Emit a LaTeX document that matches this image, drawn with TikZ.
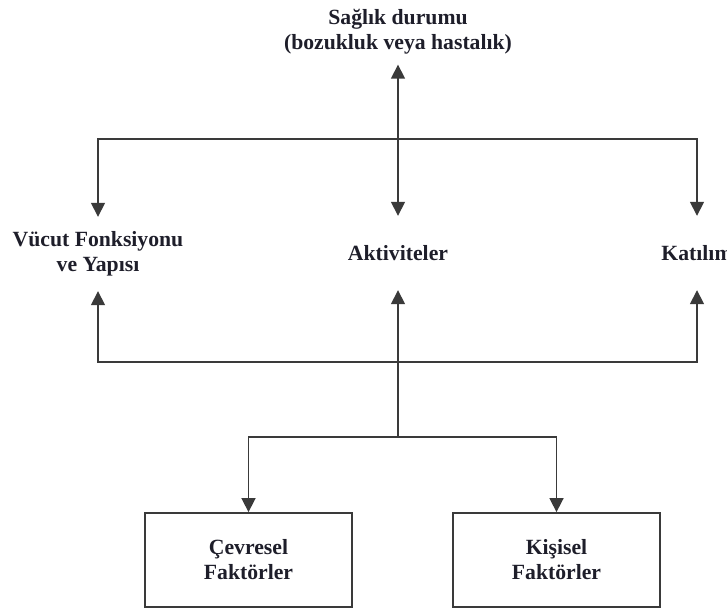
\documentclass[tikz,border=0pt]{standalone}
\usepackage{fontspec}
\setmainfont{Liberation Serif}
\usetikzlibrary{arrows.meta}
\definecolor{linec}{HTML}{3A3A3A}
\definecolor{textc}{HTML}{1E1E2A}
\tikzset{
  lbl/.style={font=\fontsize{21.7}{25}\selectfont\bfseries, text=textc, align=center, inner xsep=0pt},
  midlbl/.style={lbl, minimum height=74pt, inner ysep=0pt},
  factorbox/.style={lbl, draw=linec, line width=1.8pt, minimum width=207pt, minimum height=94pt},
  conn/.style={draw=linec, line width=1.6pt},
  arr/.style={conn, -{Triangle[length=14pt,width=14pt]}},
  darr/.style={conn, {Triangle[length=14pt,width=14pt]}-{Triangle[length=14pt,width=14pt]}}
}
\begin{document}
\begin{tikzpicture}[x=1pt,y=-1pt]
\useasboundingbox (0,0) rectangle (727,612);
\node[lbl, inner ysep=10pt] (health) at (398,32) {Sağlık durumu\\(bozukluk veya hastalık)};
\node[midlbl] (body) at (98,254) {Vücut Fonksiyonu\\ve Yapısı};
\node[midlbl] (akt) at (398,253) {Aktiviteler};
\node[midlbl] (kat) at (697,253) {Katılım};
\node[factorbox] (cev) at (248.5,560) {Çevresel\\Faktörler};
\node[factorbox] (kis) at (556.5,560) {Kişisel\\Faktörler};
\coordinate (jtop) at (398,139);
\coordinate (jmid) at (398,362);
\coordinate (jbot) at (398,437);
\draw[darr] (health.south) -- (akt.north);
\draw[arr] (jtop) -| (body.north);
\draw[arr] (jtop) -| (kat.north);
\draw[arr] (jmid) -| (body.south);
\draw[arr] (jmid) -| (kat.south);
\draw[arr] (jbot) -- (akt.south);
\draw[arr] (jbot) -| (cev.north);
\draw[arr] (jbot) -| (kis.north);
\end{tikzpicture}
\end{document}
